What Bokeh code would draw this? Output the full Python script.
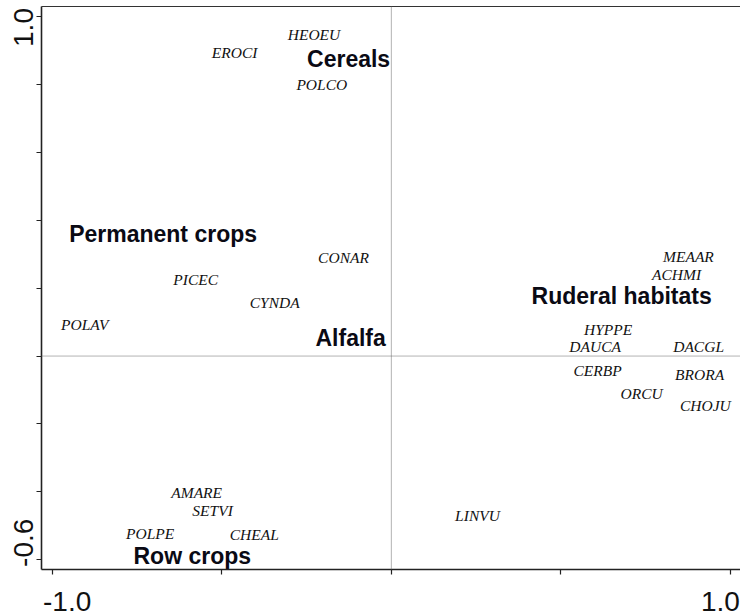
from bokeh.plotting import figure
from bokeh.models import Range1d, FixedTicker, Span, ColumnDataSource, LinearAxis
from bokeh.core.properties import value
from bokeh.embed import file_html
from bokeh.resources import INLINE

# ---- data ----
species = ["HEOEU", "EROCI", "POLCO", "CONAR", "PICEC", "CYNDA", "POLAV",
           "AMARE", "SETVI", "POLPE", "CHEAL", "MEAAR", "ACHMI", "HYPPE",
           "DAUCA", "DACGL", "CERBP", "BRORA", "ORCU", "CHOJU", "LINVU"]
species_x = [-0.228, -0.462, -0.205, -0.141, -0.577, -0.344, -0.904,
             -0.574, -0.527, -0.711, -0.404, 0.876, 0.841, 0.639,
             0.601, 0.906, 0.608, 0.909, 0.738, 0.926, 0.254]
species_y = [0.946, 0.893, 0.800, 0.289, 0.226, 0.158, 0.093,
             -0.401, -0.454, -0.522, -0.525, 0.294, 0.241, 0.079,
             0.027, 0.027, -0.042, -0.055, -0.110, -0.145, -0.469]

groups = ["Cereals", "Permanent crops", "Ruderal habitats", "Alfalfa", "Row crops"]
groups_x = [-0.126, -0.673, 0.679, -0.120, -0.587]
groups_y = [0.874, 0.358, 0.176, 0.052, -0.588]

x_ticks = [-1.0, -0.5, 0.0, 0.5, 1.0]
y_ticks = [-0.6, -0.4, -0.2, 0.0, 0.2, 0.4, 0.6, 0.8, 1.0]
x_label_values = [-1.0, 1.0]
x_label_text = ["-1.0", "1.0"]
y_label_values = [1.0, -0.6]
y_label_text = ["1.0", "-0.6"]

# ---- layout ----
W, H = 740, 616
BL, BR, BT, BB = 41, 0, 6, 47
X_START, X_END = -1.0315, 1.0295
Y_START, Y_END = -0.6286, 1.0294
px_x = (W - BL - BR) / (X_END - X_START)
px_y = (H - BT - BB) / (Y_END - Y_START)

# labels sit a little inward of their ticks, as in the original
x_label_shift_px = [15, -10]
y_label_shift_px = [-11, 17]
x_label_pos = [round(v + s / px_x, 4) for v, s in zip(x_label_values, x_label_shift_px)]
y_label_pos = [round(v + s / px_y, 4) for v, s in zip(y_label_values, y_label_shift_px)]

p = figure(width=W, height=H, output_backend="svg", toolbar_location=None,
           x_range=Range1d(X_START, X_END), y_range=Range1d(Y_START, Y_END),
           min_border_left=BL, min_border_right=BR, min_border_top=BT,
           min_border_bottom=BB)
p.grid.visible = False
p.background_fill_color = "white"
p.border_fill_color = "white"
p.outline_line_color = None

p.xaxis.ticker = FixedTicker(ticks=x_label_pos, minor_ticks=x_ticks)
p.xaxis.major_label_overrides = dict(zip(x_label_pos, x_label_text))
p.yaxis.ticker = FixedTicker(ticks=y_label_pos, minor_ticks=y_ticks)
p.yaxis.major_label_overrides = dict(zip(y_label_pos, y_label_text))
p.yaxis.major_label_orientation = "vertical"
p.xaxis.major_label_standoff = 17
p.yaxis.major_label_standoff = 3
for ax in (p.xaxis, p.yaxis):
    ax.major_label_text_font = "Liberation Sans"
    ax.major_label_text_font_size = "28px"
    ax.major_label_text_color = "#111111"
    ax.major_tick_out = 0
    ax.major_tick_in = 0
    ax.minor_tick_out = 5
    ax.minor_tick_in = 0
    ax.axis_line_width = 1.6
    ax.axis_line_color = "#222222"
    ax.minor_tick_line_color = "#222222"
    ax.minor_tick_line_width = 1.2

# top border of the box (no ticks, no labels)
top = LinearAxis(ticker=FixedTicker(ticks=[], minor_ticks=[]),
                 axis_line_color="#333333", axis_line_width=1.2,
                 major_tick_out=0, major_tick_in=0,
                 minor_tick_out=0, minor_tick_in=0, major_label_standoff=0)
p.add_layout(top, "above")

p.add_layout(Span(location=0, dimension="width", line_color="#666666",
                  line_dash="1 1", line_width=1))
p.add_layout(Span(location=0, dimension="height", line_color="#666666",
                  line_dash="1 1", line_width=1))

sp_src = ColumnDataSource(dict(x=species_x, y=species_y, t=species))
p.text(x="x", y="y", text="t", source=sp_src,
       text_font=value("Liberation Serif"), text_font_style="italic",
       text_font_size="15.5px", text_align="center", text_baseline="middle",
       text_color="#111111")

gr_src = ColumnDataSource(dict(x=groups_x, y=groups_y, t=groups))
p.text(x="x", y="y", text="t", source=gr_src,
       text_font=value("Liberation Sans"), text_font_style="bold",
       text_font_size="23px", text_align="center", text_baseline="middle",
       text_color="#0a0a14")

open("out.html", "w").write(file_html(p, INLINE))
